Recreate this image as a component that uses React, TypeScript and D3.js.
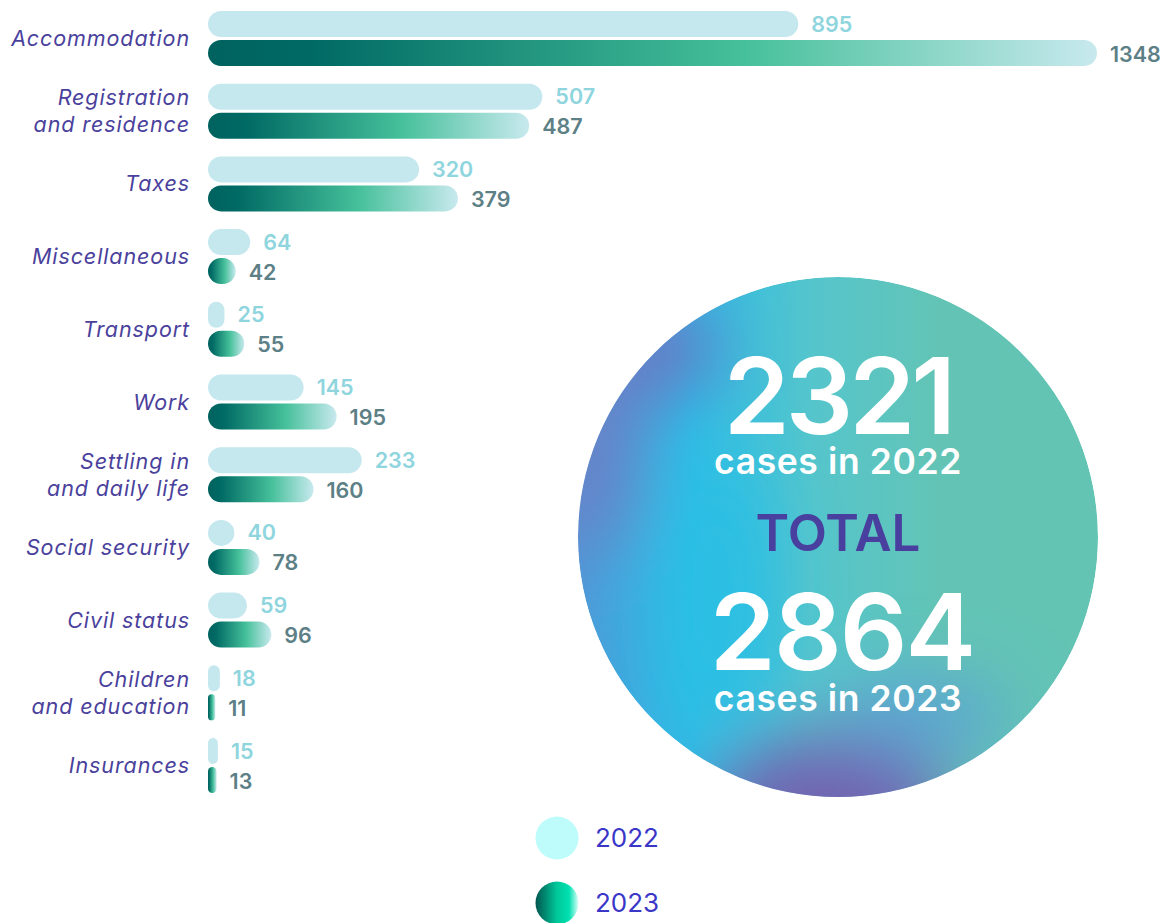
import { useEffect } from 'react'
import * as d3 from 'd3'

const categories = [
  ['Accommodation'],
  ['Registration', 'and residence'],
  ['Taxes'],
  ['Miscellaneous'],
  ['Transport'],
  ['Work'],
  ['Settling in', 'and daily life'],
  ['Social security'],
  ['Civil status'],
  ['Children', 'and education'],
  ['Insurances'],
]
const years = ['2022', '2023']
const values2022 = [895, 507, 320, 64, 25, 145, 233, 40, 59, 18, 15]
const values2023 = [1348, 487, 379, 42, 55, 195, 160, 78, 96, 11, 13]

const W = 1173
const H = 923
const FONT = 'Inter, "Noto Sans", sans-serif'

const App = () => {
  useEffect(() => {
    document.body.style.margin = '0'
  }, [])

  const x = d3.scaleLinear().domain([0, d3.max(values2023)!]).range([208, 1097])
  const y = d3
    .scaleBand<number>()
    .domain(d3.range(categories.length))
    .range([11, 793])
    .paddingInner(0.243)
    .paddingOuter(0)
  const yy = d3.scaleBand<string>().domain(years).range([0, y.bandwidth()]).paddingInner(0.1034)
  const bh = yy.bandwidth()

  const total2022 = d3.sum(values2022)
  const total2023 = d3.sum(values2023)

  const cx = 838
  const cy = 537
  const r = 260

  const bar = (v: number, yPos: number, fill: string, key: string) => {
    const w = x(v) - x(0)
    return (
      <rect key={key} x={x(0)} y={yPos} width={w} height={bh} rx={Math.min(bh / 2, w / 2)} fill={fill} />
    )
  }

  // category label style
  const catProps = {
    textAnchor: 'end' as const,
    fill: '#4a419c',
    fontFamily: FONT,
    fontStyle: 'italic',
    fontSize: 21.5,
    letterSpacing: 0.9,
  }

  return (
    <svg width={W} height={H} style={{ display: 'block', background: '#fff' }}>
      <defs>
        <linearGradient id="g23" x1="0" x2="1" y1="0" y2="0">
          <stop offset="0" stopColor="#00625e" />
          <stop offset="0.12" stopColor="#006a64" />
          <stop offset="0.6" stopColor="#45c09a" />
          <stop offset="1" stopColor="#c8e9ee" />
        </linearGradient>
        <linearGradient id="leg23" x1="0" x2="1" y1="0" y2="0">
          <stop offset="0" stopColor="#00564f" />
          <stop offset="0.5" stopColor="#00c89a" />
          <stop offset="0.78" stopColor="#00e0b0" />
          <stop offset="1" stopColor="#e0fffb" />
        </linearGradient>
        <linearGradient id="circBase" x1="0" x2="1" y1="0" y2="0">
          <stop offset="0" stopColor="#4f9ad8" />
          <stop offset="0.22" stopColor="#2bbde6" />
          <stop offset="0.45" stopColor="#55c5cc" />
          <stop offset="0.7" stopColor="#63c4b5" />
          <stop offset="1" stopColor="#63c4b4" />
        </linearGradient>
        <clipPath id="circClip">
          <circle cx={cx} cy={cy} r={r} />
        </clipPath>
        <filter id="blur" x="-50%" y="-50%" width="200%" height="200%">
          <feGaussianBlur stdDeviation="35" />
        </filter>
      </defs>

      {categories.map((lines, i) => {
        const top = y(i)!
        const y22 = top + yy('2022')!
        const y23 = top + yy('2023')!
        const center = top + y.bandwidth() / 2
        return (
          <g key={i}>
            {bar(values2022[i], y22, '#c5e8ef', 'a')}
            {bar(values2023[i], y23, 'url(#g23)', 'b')}
            <text
              x={x(values2022[i]) + 13}
              y={y22 + bh / 2}
              dy="0.35em"
              fill="#8fd5de"
              fontFamily={FONT}
              fontWeight={600}
              fontSize={21.5}
            >
              {values2022[i]}
            </text>
            <text
              x={x(values2023[i]) + 13}
              y={y23 + bh / 2 + 1}
              dy="0.35em"
              fill="#5d7f86"
              fontFamily={FONT}
              fontWeight={600}
              fontSize={21.5}
            >
              {values2023[i]}
            </text>
            {lines.length === 1 ? (
              <text x={190} y={center} dy="0.35em" {...catProps}>
                {lines[0]}
              </text>
            ) : (
              lines.map((l, j) => (
                <text
                  key={j}
                  x={190}
                  y={(j === 0 ? y22 : y23) + bh / 2}
                  dy={j === 0 ? '0.4em' : '0.3em'}
                  {...catProps}
                >
                  {l}
                </text>
              ))
            )}
          </g>
        )
      })}

      <g clipPath="url(#circClip)">
        <circle cx={cx} cy={cy} r={r} fill="url(#circBase)" />
        <g filter="url(#blur)">
          <ellipse cx={cx - 10} cy={cy + 270} rx={120} ry={70} fill="#7262b0" />
          <ellipse cx={cx - 250} cy={cy - 90} rx={45} ry={110} fill="#6a80c6" />
          <ellipse cx={cx - 180} cy={cy - 190} rx={60} ry={50} fill="#6a78c4" />
          <ellipse cx={cx - 120} cy={cy + 60} rx={50} ry={140} fill="#2bbfe4" />
          <ellipse cx={cx + 80} cy={cy + 180} rx={90} ry={40} fill="#5ba4d4" />
        </g>
      </g>

      <g fontFamily={FONT} textAnchor="middle">
        <text x={cx} y={434} fill="#fff" fontSize={106} fontWeight={600} letterSpacing={-4}>
          {total2022}
        </text>
        <text x={cx} y={474} fill="#fff" fontSize={35.5} fontWeight={600} letterSpacing={0.6}>
          cases in 2022
        </text>
        <text x={cx} y={551} fill="#483f9e" fontSize={51} fontWeight={600}>
          TOTAL
        </text>
        <text x={cx + 4} y={670} fill="#fff" fontSize={106} fontWeight={600} letterSpacing={-2}>
          {total2023}
        </text>
        <text x={cx} y={711} fill="#fff" fontSize={35.5} fontWeight={600} letterSpacing={0.6}>
          cases in 2023
        </text>
      </g>

      {years.map((yr, i) => (
        <g key={yr} transform={`translate(0, ${838 + i * 65})`}>
          <circle cx={557} cy={0} r={21.5} fill={i === 0 ? '#bdfcfb' : 'url(#leg23)'} />
          <text x={595} y={0} dy="0.36em" fill="#3a36c8" fontFamily={FONT} fontSize={26}>
            {yr}
          </text>
        </g>
      ))}
    </svg>
  )
}

export default App
